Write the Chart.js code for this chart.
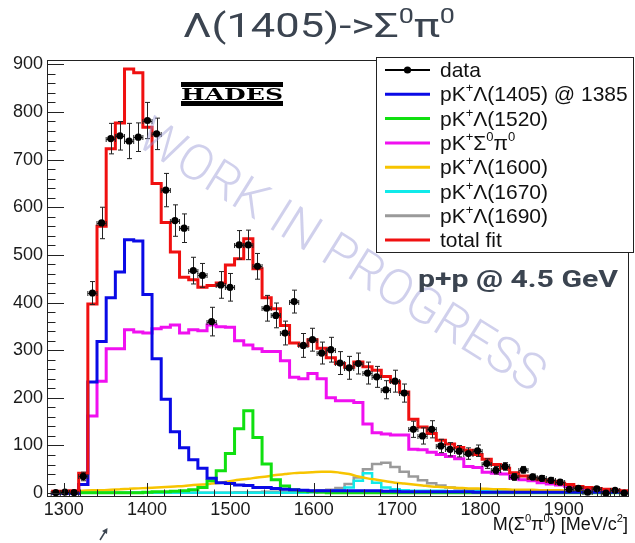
<!DOCTYPE html>
<html>
<head>
<meta charset="utf-8">
<script src="https://cdn.jsdelivr.net/npm/chart.js@4.4.0/dist/chart.umd.min.js"></script>
<style>
  html, body { margin: 0; padding: 0; background: #fff; }
  canvas { display: block; }
</style>
</head>
<body>
<canvas id="sigmaPi" width="635" height="543"></canvas>
<script>
// binning of M(Sigma0 pi0), MeV/c^2
const binLow = 1285;
const binWidth = 11;

const xTicks = [1300, 1400, 1500, 1600, 1700, 1800, 1900];
const yTicks = [0, 100, 200, 300, 400, 500, 600, 700, 800, 900];

// measured counts per bin and their errors
const dataCounts = [1, 2, 1, 35, 420, 567, 744, 750, 739, 747, 782, 754, 636, 572, 556, 467, 457, 360, 437, 432,
  521, 521, 476, 388, 373, 336, 402, 310, 322, 294, 301, 273, 263, 272, 252, 244, 217, 235, 210, 134,
  120, 134, 99, 92, 88, 83, 89, 62, 48, 56, 34, 49, 34, 31, 27, 23, 8, 10, 2, 9, 0, 6, 0];
const dataErrors = [2, 3, 2, 9, 24, 33, 32, 30, 37, 30, 38, 33, 35, 33, 30, 28, 25, 30, 28, 29,
  30, 31, 27, 27, 26, 25, 24, 25, 24, 23, 26, 24, 24, 22, 23, 22, 19, 23, 19, 17,
  17, 18, 14, 14, 12, 12, 12, 10, 8, 8, 7, 7, 6, 6, 6, 5, 4, 4, 3, 4, 3, 3, 3];

// fit components
const fitTotal = [4, 4, 5, 42, 397, 560, 723, 777, 890, 882, 768, 650, 568, 506, 453, 448, 432, 436, 441, 479,
  492, 534, 471, 410, 387, 352, 315, 310, 322, 304, 284, 272, 264, 275, 265, 258, 245, 234, 212, 155,
  139, 125, 111, 103, 96, 90, 81, 71, 60, 52, 43, 36, 31, 28, 25, 21, 18, 14, 12, 10, 8, 6, 5];
const fitL1405 = [0, 0, 0, 18, 233, 318, 410, 464, 532, 529, 417, 282, 197, 129, 95, 70, 52, 31, 22, 20,
  17, 16, 12, 12, 10, 8, 7, 6, 5, 5, 5, 5, 5, 5, 5, 5, 4, 4, 3, 3,
  3, 3, 3, 3, 3, 3, 2, 2, 2, 2, 2, 2, 2, 2, 2, 2, 2, 2, 2, 2, 2, 2, 2];
const fitL1520 = [1, 1, 1, 1, 1, 1, 1, 1, 1, 1, 2, 3, 3, 4, 5, 7, 12, 26, 47, 83,
  135, 173, 117, 61, 28, 15, 7, 4, 3, 2, 1, 1, 1, 1, 1, 1, 1, 1, 1, 1,
  1, 1, 1, 1, 1, 1, 1, 1, 1, 1, 1, 1, 1, 1, 1, 1, 1, 1, 1, 1, 1, 1, 1];
const fitSigmaPi = [0, 0, 0, 18, 162, 235, 303, 303, 343, 338, 336, 345, 348, 353, 336, 343, 341, 353, 349, 348,
  320, 311, 303, 297, 297, 278, 243, 240, 251, 240, 200, 194, 194, 190, 145, 127, 124, 122, 122, 92,
  91, 86, 81, 77, 72, 56, 54, 44, 42, 40, 31, 28, 26, 22, 19, 17, 14, 12, 10, 8, 6, 4, 3];
const fitL1600 = [3, 4, 4, 5, 6, 6, 7, 8, 9, 10, 11, 12, 13, 14, 15, 17, 18, 20, 22, 25,
  28, 30, 33, 35, 38, 40, 42, 43, 44, 45, 45, 43, 40, 35, 31, 28, 25, 22, 20, 18,
  16, 14, 13, 12, 11, 10, 10, 9, 8, 8, 7, 7, 7, 6, 6, 6, 5, 5, 5, 5, 4, 4, 4];
const fitL1670 = [1, 1, 1, 1, 1, 1, 1, 1, 1, 1, 1, 1, 1, 1, 1, 1, 1, 1, 1, 1,
  1, 1, 1, 1, 1, 1, 1, 1, 2, 3, 4, 6, 12, 26, 42, 22, 12, 8, 6, 5,
  5, 5, 5, 4, 4, 4, 4, 4, 4, 3, 3, 3, 3, 3, 3, 3, 3, 3, 3, 2, 2, 2, 2];
const fitL1690 = [1, 1, 1, 1, 1, 1, 1, 1, 1, 1, 1, 1, 1, 1, 1, 1, 1, 1, 1, 1,
  2, 2, 2, 3, 3, 3, 4, 4, 5, 6, 7, 11, 19, 33, 50, 61, 64, 55, 45, 35,
  27, 21, 16, 12, 10, 8, 7, 6, 5, 5, 5, 4, 4, 4, 4, 3, 3, 3, 3, 3, 2, 2, 2];

const sans = '"Liberation Sans", Arial, Helvetica, sans-serif';
const slate = '#3b4450';

function histPoints(vals) {
  const pts = vals.map((v, k) => ({ x: binLow + binWidth * k, y: v }));
  pts.push({ x: binLow + binWidth * vals.length, y: vals[vals.length - 1] });
  return pts;
}
function centerPoints(vals) {
  return vals.map((v, k) => ({ x: binLow + binWidth * (k + 0.5), y: v }));
}
function histSet(label, vals, color, width) {
  return {
    label: label, data: histPoints(vals), borderColor: color, backgroundColor: color,
    borderWidth: width, stepped: 'before', pointRadius: 0, fill: false, order: 2
  };
}

// text with ^{...} superscripts
function richParts(str) {
  return str.split(/(\^\{[^}]*\})/).filter(s => s).map(s =>
    s.startsWith('^{') ? { t: s.slice(2, -1), sup: true } : { t: s, sup: false });
}
function drawRich(ctx, str, x, y, o) {
  const parts = richParts(str);
  const font = sz => `${o.weight || 'normal'} ${sz}px ${o.family}`;
  let w = 0;
  parts.forEach(p => {
    ctx.font = font(p.sup ? o.size * 0.62 : o.size);
    p.w = ctx.measureText(p.t).width;
    w += p.w;
  });
  const sx = o.width ? o.width / w : 1;
  ctx.save();
  ctx.translate(x, y);
  if (o.rotate) ctx.rotate(o.rotate);
  ctx.scale(sx, 1);
  let cx = o.align === 'right' ? -w : o.align === 'center' ? -w / 2 : 0;
  ctx.fillStyle = o.color;
  ctx.textAlign = 'left';
  ctx.textBaseline = o.baseline || 'alphabetic';
  parts.forEach(p => {
    ctx.font = font(p.sup ? o.size * 0.62 : o.size);
    ctx.fillText(p.t, cx, p.sup ? -o.size * 0.42 : 0);
    cx += p.w;
  });
  ctx.restore();
}

const errorBars = {
  id: 'errorBars',
  beforeDatasetDraw(chart, args) {
    if (args.index !== 0) return;
    const { ctx, chartArea: a, scales: { x, y } } = chart;
    ctx.save();
    ctx.beginPath();
    ctx.rect(a.left, a.top, a.right - a.left, a.bottom - a.top);
    ctx.clip();
    ctx.strokeStyle = '#222';
    ctx.lineWidth = 1;
    dataCounts.forEach((v, k) => {
      const c = binLow + binWidth * (k + 0.5);
      const px = Math.round(x.getPixelForValue(c)) + 0.5;
      const py = Math.round(y.getPixelForValue(v)) + 0.5;
      const top = y.getPixelForValue(v + dataErrors[k]);
      const bot = y.getPixelForValue(v - dataErrors[k]);
      const l = x.getPixelForValue(c - binWidth / 2);
      const r = x.getPixelForValue(c + binWidth / 2);
      ctx.beginPath();
      ctx.moveTo(px, top); ctx.lineTo(px, bot);
      ctx.moveTo(px - 2.5, top); ctx.lineTo(px + 2.5, top);
      ctx.moveTo(px - 2.5, bot); ctx.lineTo(px + 2.5, bot);
      ctx.moveTo(l, py); ctx.lineTo(r, py);
      ctx.moveTo(l, py - 2.5); ctx.lineTo(l, py + 2.5);
      ctx.moveTo(r, py - 2.5); ctx.lineTo(r, py + 2.5);
      ctx.stroke();
    });
    ctx.restore();
  }
};

const rootFrame = {
  id: 'rootFrame',
  afterDatasetsDraw(chart) {
    const { ctx, chartArea: a, scales: { x, y } } = chart;
    ctx.save();
    ctx.strokeStyle = '#222';
    ctx.lineWidth = 1;
    ctx.beginPath();
    // minor and major ticks on the inside
    for (let v = 0; v <= 900; v += 20) {
      const py = Math.round(y.getPixelForValue(v)) + 0.5;
      const len = v % 100 === 0 ? 17 : 8.5;
      ctx.moveTo(a.left, py); ctx.lineTo(a.left + len, py);
    }
    for (let v = 1280; v <= 1960; v += 20) {
      const px = Math.round(x.getPixelForValue(v)) + 0.5;
      const len = v % 100 === 0 ? 13 : 6.5;
      ctx.moveTo(px, a.bottom); ctx.lineTo(px, a.bottom - len);
    }
    ctx.stroke();
    ctx.strokeRect(Math.round(a.left) + 0.5, Math.round(a.top) + 0.5,
      Math.round(a.right - a.left), Math.round(a.bottom - a.top));
    ctx.restore();
  },
  afterDraw(chart) {
    const ctx = chart.ctx;
    // watermark
    drawRich(ctx, 'WORK IN PROGRESS', 340, 258, {
      size: 50, family: 'Roboto, "Open Sans", sans-serif', weight: '300',
      color: 'rgba(150,150,212,0.45)', align: 'center', baseline: 'middle',
      width: 470, rotate: 32 * Math.PI / 180
    });

    // HADES logo
    ctx.save();
    ctx.fillStyle = '#000';
    ctx.fillRect(181, 82, 102, 5);
    ctx.fillRect(181, 101, 102, 5);
    ctx.restore();
    drawRich(ctx, 'HADES', 232, 100, {
      size: 16, family: '"DejaVu Serif", "Liberation Serif", serif', weight: 'bold',
      color: '#000', align: 'center', width: 102
    });

    // legend
    const lx = 376, ly = 57, lw = 258, lh = 196;
    ctx.save();
    ctx.fillStyle = '#fff';
    ctx.fillRect(lx, ly, lw, lh);
    ctx.strokeStyle = '#222';
    ctx.lineWidth = 1;
    ctx.strokeRect(lx + 0.5, ly + 0.5, lw - 1, lh - 1);
    chart.data.datasets.forEach((ds, i) => {
      const ry = 70 + i * 24.3;
      ctx.strokeStyle = ds.borderColor;
      ctx.lineWidth = i === 0 ? 2 : 3;
      ctx.beginPath();
      ctx.moveTo(385, ry); ctx.lineTo(430, ry);
      ctx.stroke();
      if (i === 0) {
        ctx.fillStyle = '#000';
        ctx.beginPath();
        ctx.arc(407.5, ry, 3.6, 0, Math.PI * 2);
        ctx.fill();
      }
      drawRich(ctx, ds.label, 440, ry + 7, { size: 21, family: sans, color: '#111' });
    });
    ctx.restore();

    // title, beam label, axis title
    drawRich(ctx, 'Λ(1405)->Σ^{0}π^{0}', 319, 37, {
      size: 34, family: 'Roboto, sans-serif', color: slate, align: 'center', width: 272
    });
    drawRich(ctx, 'p+p @ 4.5 GeV', 418, 287, {
      size: 24, family: 'Roboto, sans-serif', weight: 'bold', color: slate, width: 200
    });
    drawRich(ctx, 'M(Σ^{0}π^{0}) [MeV/c^{2}]', 628, 530, {
      size: 18, family: sans, color: '#111', align: 'right'
    });

    // small cursor arrow under the axis
    ctx.save();
    ctx.strokeStyle = slate; ctx.fillStyle = slate; ctx.lineWidth = 1.5;
    ctx.beginPath(); ctx.moveTo(100, 540); ctx.lineTo(105, 532); ctx.stroke();
    ctx.beginPath(); ctx.moveTo(107.5, 528); ctx.lineTo(102, 531); ctx.lineTo(107, 534); ctx.closePath(); ctx.fill();
    ctx.restore();
  }
};

new Chart(document.getElementById('sigmaPi').getContext('2d'), {
  type: 'line',
  data: {
    datasets: [
      {
        label: 'data', data: centerPoints(dataCounts), showLine: false,
        borderColor: '#000', backgroundColor: '#000', pointRadius: 3.6,
        pointBorderWidth: 0, pointBackgroundColor: '#000', order: 0
      },
      histSet('pK^{+}Λ(1405) @ 1385', fitL1405, '#0a0ae6', 3),
      histSet('pK^{+}Λ(1520)', fitL1520, '#10e010', 3),
      histSet('pK^{+}Σ^{0}π^{0}', fitSigmaPi, '#f010f0', 3),
      Object.assign(histSet('pK^{+}Λ(1600)', [], '#f7c400', 2.5),
        { data: centerPoints(fitL1600), stepped: false, tension: 0.4, cubicInterpolationMode: 'monotone' }),
      histSet('pK^{+}Λ(1670)', fitL1670, '#10eaea', 2.5),
      histSet('pK^{+}Λ(1690)', fitL1690, '#9a9a9a', 2.5),
      Object.assign(histSet('total fit', fitTotal, '#f01010', 3), { order: 1 })
    ]
  },
  options: {
    responsive: false,
    animation: false,
    events: [],
    layout: { padding: { top: 60, right: 7, left: 0, bottom: 0 } },
    plugins: { legend: { display: false }, tooltip: { enabled: false }, title: { display: false } },
    scales: {
      x: {
        type: 'linear', min: 1280, max: 1977,
        grid: { display: false, drawTicks: false }, border: { display: false },
        afterBuildTicks: s => { s.ticks = xTicks.map(v => ({ value: v })); },
        afterFit: s => { s.height = 47; },
        ticks: {
          callback: v => String(v), autoSkip: false, maxRotation: 0, padding: 3,
          color: '#1a1a1a', font: { family: sans, size: 18 }
        }
      },
      y: {
        type: 'linear', min: -6, max: 909,
        grid: { display: false, drawTicks: false }, border: { display: false },
        afterBuildTicks: s => { s.ticks = yTicks.map(v => ({ value: v })); },
        afterFit: s => { s.width = 47; },
        ticks: {
          callback: v => String(v), padding: 4,
          color: '#1a1a1a', font: { family: sans, size: 18 }
        }
      }
    }
  },
  plugins: [errorBars, rootFrame]
});
</script>
</body>
</html>
